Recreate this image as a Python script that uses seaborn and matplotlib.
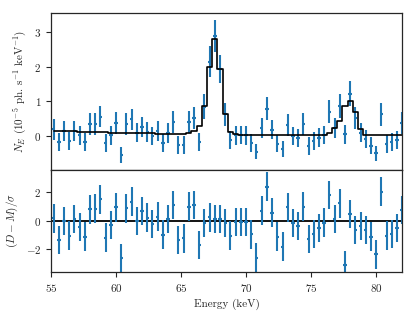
import matplotlib
matplotlib.use("Agg")
import matplotlib.pyplot as plt
import seaborn as sns

# bin centres (keV)
energy = [55.2, 55.6, 56.0, 56.4, 56.8, 57.2, 57.6, 58.0, 58.4, 58.8,
          59.2, 59.6, 60.0, 60.4, 60.8, 61.2, 61.6, 62.0, 62.4, 62.8,
          63.2, 63.6, 64.0, 64.4, 64.8, 65.2, 65.6, 66.0, 66.4, 66.8,
          67.2, 67.6, 68.0, 68.4, 68.8, 69.2, 69.6, 70.0, 70.4, 70.8,
          71.2, 71.6, 72.0, 72.4, 72.8, 73.2, 73.6, 74.0, 74.4, 74.8,
          75.2, 75.6, 76.0, 76.4, 76.8, 77.2, 77.6, 78.0, 78.4, 78.8,
          79.2, 79.6, 80.0, 80.4, 80.8, 81.2, 81.6, 82.0]

# measured flux (1e-5 ph/s/keV)
flux = [0.19, -0.16, 0.14, -0.14, 0.14, 0.02, -0.17, 0.35, 0.35, 0.56,
        -0.19, 0.02, 0.38, -0.55, 0.35, 0.48, 0.10, 0.25, 0.12, 0.00,
        0.15, -0.19, 0.08, 0.41, -0.26, -0.26, 0.41, 0.52, -0.16, 0.84,
        2.14, 2.88, 1.94, 0.62, -0.12, 0.02, 0.03, 0.02, -0.20, -0.45,
        0.22, 0.78, 0.18, -0.22, -0.38, 0.32, 0.00, -0.06, 0.34, -0.29,
        -0.15, -0.05, 0.03, 0.70, 0.24, 0.86, 0.05, 1.22, 0.52, 0.10,
        -0.08, -0.28, -0.50, 0.63, -0.23, -0.18, -0.12, 0.37]

flux_err = [0.30, 0.26, 0.29, 0.26, 0.29, 0.27, 0.26, 0.31, 0.31, 0.31,
            0.26, 0.27, 0.31, 0.23, 0.31, 0.31, 0.28, 0.29, 0.28, 0.27,
            0.29, 0.26, 0.28, 0.31, 0.25, 0.25, 0.31, 0.32, 0.26, 0.36,
            0.44, 0.46, 0.40, 0.33, 0.26, 0.27, 0.27, 0.27, 0.26, 0.21,
            0.29, 0.33, 0.28, 0.25, 0.23, 0.31, 0.27, 0.27, 0.31, 0.25,
            0.26, 0.27, 0.27, 0.33, 0.29, 0.34, 0.28, 0.37, 0.32, 0.28,
            0.26, 0.24, 0.22, 0.33, 0.25, 0.26, 0.26, 0.31]

# folded model per bin
model = [0.14, 0.14, 0.13, 0.13, 0.13, 0.12, 0.12, 0.12, 0.11, 0.11,
         0.11, 0.10, 0.10, 0.10, 0.09, 0.09, 0.09, 0.08, 0.08, 0.08,
         0.07, 0.07, 0.07, 0.06, 0.06, 0.07, 0.10, 0.15, 0.29, 0.85,
         2.00, 2.79, 1.92, 0.63, 0.12, 0.05, 0.04, 0.04, 0.04, 0.04,
         0.04, 0.04, 0.04, 0.03, 0.03, 0.03, 0.03, 0.03, 0.03, 0.03,
         0.03, 0.03, 0.04, 0.08, 0.22, 0.44, 0.86, 1.02, 0.68, 0.20,
         0.04, 0.02, 0.02, 0.02, 0.02, 0.02, 0.02, 0.02]

# (D - M) / sigma
resid = [0.19, -1.35, 0.00, -1.03, 0.14, -0.42, -1.10, 0.82, 0.86, 1.52,
         -1.17, -0.28, 0.96, -2.62, 0.89, 1.36, 0.00, 0.70, 0.23, -0.23,
         0.30, -0.96, 0.13, 1.12, -1.33, -1.22, 1.00, 1.12, -1.68, -0.16,
         0.26, 0.14, 0.14, -0.16, -1.03, -0.09, -0.09, -0.09, -0.94, -2.57,
         0.73, 2.41, 0.59, -1.10, -1.80, 0.96, -0.16, -0.35, 1.00, -1.26,
         -0.91, -0.51, -0.12, 1.82, 0.14, 1.24, -3.09, 0.49, -0.63, -0.35,
         -0.63, -1.10, -2.34, 2.06, -1.03, -0.91, -0.51, 0.77]
resid_err = 1.0
x_err = 0.13

sns.set_style("ticks")
plt.rcParams.update({
    "font.family": "serif",
    "font.serif": ["cmr10"],
    "mathtext.fontset": "cm",
    "axes.formatter.use_mathtext": True,
    "font.size": 8,
    "axes.labelsize": 8,
    "xtick.labelsize": 8,
    "ytick.labelsize": 8,
    "axes.edgecolor": "0.15",
    "axes.linewidth": 0.9,
})

blue = "#1f77b4"

fig = plt.figure(figsize=(4.15, 3.21), dpi=100)
gs = fig.add_gridspec(2, 1, height_ratios=[157, 102], hspace=0,
                      left=0.123, right=0.969, top=0.959, bottom=0.153)
ax1 = fig.add_subplot(gs[0])
ax2 = fig.add_subplot(gs[1], sharex=ax1)

# spectrum + model
ax1.errorbar(energy, flux, yerr=flux_err, xerr=x_err, fmt="none",
             ecolor=blue, elinewidth=1.5, zorder=2)
sns.lineplot(x=energy, y=model, drawstyle="steps-mid", color="k",
             lw=1.2, estimator=None, ax=ax1, zorder=3)
ax1.set_ylim(-0.98, 3.54)
ax1.set_yticks([0, 1, 2, 3])
ax1.set_ylabel(r"$N_E$ $(10^{-5}$ ph. s$^{-1}$ keV$^{-1})$")
ax1.tick_params(labelbottom=False)
ax1.set_xlabel("")

# residuals
ax2.axhline(0, color="k", lw=1.3, zorder=1)
ax2.errorbar(energy, resid, yerr=resid_err, xerr=x_err, fmt="none",
             ecolor=blue, elinewidth=1.5, zorder=2)
ax2.set_ylim(-3.57, 3.57)
ax2.set_yticks([-2, 0, 2])
ax2.set_ylabel(r"$(D-M)/\sigma$")
ax2.set_xlim(55, 82)
ax2.set_xticks([55, 60, 65, 70, 75, 80])
ax2.set_xlabel("Energy (keV)")

fig.savefig("out.png", dpi=100)
